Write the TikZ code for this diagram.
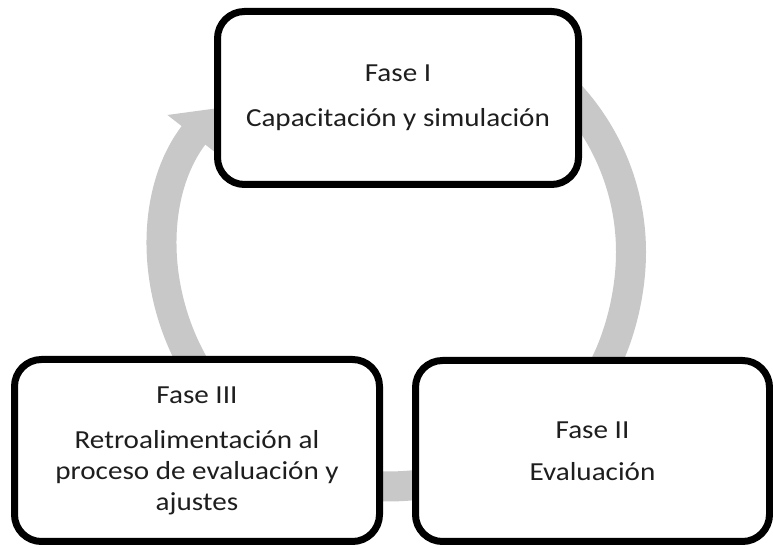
\documentclass[tikz,border=0pt]{standalone}
\usepackage{fontspec}
\setmainfont{Carlito}[FakeStretch=1.12]
\usepackage{tikz}
\usetikzlibrary{arrows.meta}

\definecolor{ringgray}{RGB}{200,200,200}
\definecolor{textgray}{RGB}{30,30,30}

\begin{document}
\begin{tikzpicture}[x=1pt, y=1pt,
    phasebox/.style={draw=black, line width=7pt, fill=white, rounded corners=27pt,
        align=center, inner sep=0pt, text=textgray, font=\fontsize{26}{31}\selectfont},
    ringarrow/.style={draw=ringgray, line width=30pt,
        -{Triangle[width=64pt, length=34pt]}}]

\useasboundingbox (0,0) rectangle (773,548);

% Centre of the cycle
\coordinate (ctr) at (398,296);

% Gray cycle arrows (ends hidden under the boxes)
\foreach \a/\b in {225/142, 60/-45, -70/-115}
    \draw[ringarrow] ([shift={(\a:233)}]ctr) arc[start angle=\a, end angle=\b, radius=233];

% Phase boxes
\node[phasebox, minimum width=361pt, minimum height=173pt] (f1) at (398,450)
    {Fase I\\[14pt]Capacitación y simulación};
\node[phasebox, minimum width=354pt, minimum height=181pt] (f2) at (592.5,97)
    {Fase II\\[11pt]Evaluación};
\node[phasebox, minimum width=365pt, minimum height=182pt] (f3) at (197,97.5)
    {Fase III\\[14pt]Retroalimentación al\\proceso de evaluación y\\ajustes};

\end{tikzpicture}
\end{document}
